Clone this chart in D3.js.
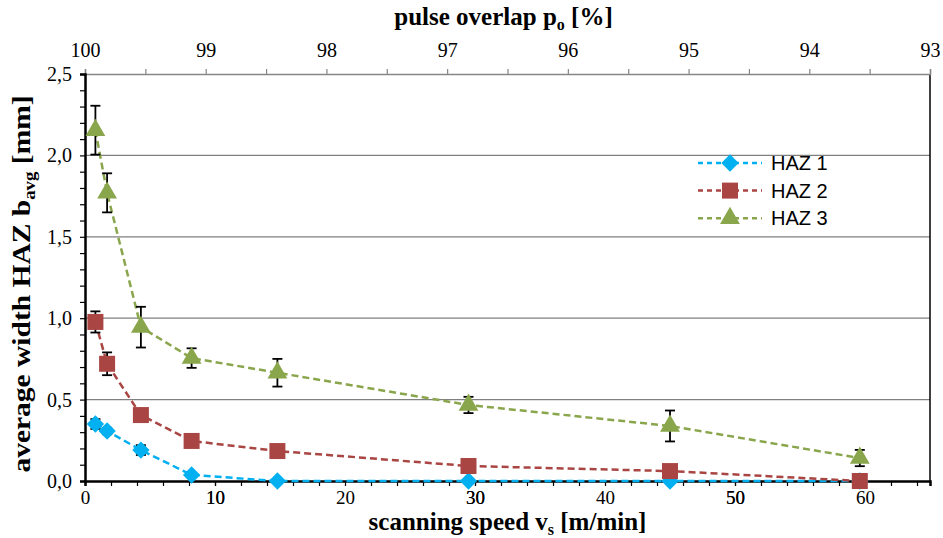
<!DOCTYPE html>
<html>
<head>
<meta charset="utf-8">
<script src="https://cdn.jsdelivr.net/npm/d3@7"></script>
<style>
body { margin: 0; background: #fff; }
svg { display: block; }
</style>
</head>
<body>
<script>
// scanning speed v_s [m/min]
var speed = [0.8, 1.7, 4.3, 8.2, 14.8, 29.5, 45, 59.6];
// HAZ widths [mm] and error bars
var haz1 = [0.35, 0.307, 0.19, 0.037, 0, 0, 0, 0];
var haz1Err = [0.03, 0.02, 0.03, 0, 0, 0, 0, 0];
var haz2 = [0.977, 0.72, 0.405, 0.246, 0.184, 0.092, 0.061, 0];
var haz2Err = [0.065, 0.07, 0.02, 0, 0, 0, 0.025, 0];
var haz3 = [2.155, 1.77, 0.945, 0.755, 0.665, 0.467, 0.338, 0.141];
var haz3Err = [0.15, 0.12, 0.125, 0.06, 0.085, 0.05, 0.095, 0.05];
var seriesNames = ["HAZ 1", "HAZ 2", "HAZ 3"];
var yTickLabels = ["0,0", "0,5", "1,0", "1,5", "2,0", "2,5"];

var width = 943, height = 538;
var mLeft = 85, mRight = 930, mTop = 74, mBottom = 481;

var svg = d3.select("body").append("svg")
    .attr("width", width)
    .attr("height", height);

var x = d3.scaleLinear().domain([0, 65]).range([mLeft, mRight]);
var xTop = d3.scaleLinear().domain([100, 93]).range([mLeft, mRight]);
var y = d3.scaleLinear().domain([0, 2.5]).range([mBottom, mTop]);

var serif = "'Liberation Serif', 'Times New Roman', serif";

// gridlines
svg.append("g").selectAll("line")
    .data([0.5, 1.0, 1.5, 2.0])
    .enter().append("line")
    .attr("x1", mLeft).attr("x2", mRight)
    .attr("y1", function(d) { return y(d); })
    .attr("y2", function(d) { return y(d); })
    .attr("stroke", "#7f7f7f")
    .attr("stroke-width", 1.2);

// right border
svg.append("line")
    .attr("x1", mRight).attr("x2", mRight)
    .attr("y1", mTop).attr("y2", mBottom)
    .attr("stroke", "#000").attr("stroke-width", 1.5);

// top axis
var topAxis = svg.append("g")
    .attr("transform", "translate(0," + mTop + ")")
    .call(d3.axisTop(xTop)
        .tickValues(d3.range(100, 92.9, -0.5))
        .tickSize(5)
        .tickFormat(function(d) { return d % 1 === 0 ? d : ""; }));
topAxis.select(".domain").attr("stroke", "#868686").attr("stroke-width", 1.5);
topAxis.selectAll(".tick line").attr("stroke", "#868686").attr("stroke-width", 1.2);
topAxis.selectAll("text")
    .attr("font-family", serif).attr("font-size", 20).attr("fill", "#000")
    .attr("y", -17).attr("dy", 0);

// bottom axis
var bottomAxis = svg.append("g")
    .attr("transform", "translate(0," + mBottom + ")")
    .call(d3.axisBottom(x)
        .tickValues(d3.range(0, 65.1, 2).concat([10, 30, 50]))
        .tickSize(5)
        .tickFormat(function(d) { return d % 10 === 0 ? d : ""; }));
bottomAxis.select(".domain").attr("stroke", "#000").attr("stroke-width", 2.5);
bottomAxis.selectAll(".tick line").attr("stroke", "#000").attr("stroke-width", 1.2);
bottomAxis.selectAll("text")
    .attr("font-family", serif).attr("font-size", 19).attr("fill", "#000")
    .attr("y", 23).attr("dy", 0);

// left axis
var leftAxis = svg.append("g")
    .attr("transform", "translate(" + mLeft + ",0)")
    .call(d3.axisLeft(y)
        .tickValues(d3.range(0, 2.51, 0.1))
        .tickSize(5)
        .tickFormat(function(d) {
            var i = Math.round(d * 10);
            return i % 5 === 0 ? yTickLabels[i / 5] : "";
        }));
leftAxis.select(".domain").attr("stroke", "#000").attr("stroke-width", 2.5);
leftAxis.selectAll(".tick line").attr("stroke", "#000").attr("stroke-width", 1.2);
leftAxis.selectAll("text")
    .attr("font-family", serif).attr("font-size", 20).attr("fill", "#000")
    .attr("x", -13);

// axis titles
var xt = svg.append("text")
    .attr("x", (mLeft + mRight) / 2).attr("y", 530)
    .attr("text-anchor", "middle")
    .attr("font-family", serif).attr("font-size", 25).attr("font-weight", "bold");
xt.append("tspan").text("scanning speed v");
xt.append("tspan").attr("font-size", 16).attr("dy", 5).text("s");
xt.append("tspan").attr("dy", -5).text(" [m/min]");

var tt = svg.append("text")
    .attr("x", (mLeft + mRight) / 2 - 4).attr("y", 25)
    .attr("text-anchor", "middle")
    .attr("font-family", serif).attr("font-size", 25).attr("font-weight", "bold");
tt.append("tspan").text("pulse overlap p");
tt.append("tspan").attr("font-size", 16).attr("dy", 5).text("o");
tt.append("tspan").attr("dy", -5).text(" [%]");

var yt = svg.append("text")
    .attr("transform", "translate(30,284) rotate(-90) scale(1.18,1)")
    .attr("text-anchor", "middle")
    .attr("font-family", serif).attr("font-size", 25).attr("font-weight", "bold");
yt.append("tspan").text("average width HAZ b");
yt.append("tspan").attr("font-size", 16).attr("dy", 5).text("avg");
yt.append("tspan").attr("dy", -5).text(" [mm]");

// series
var series = [
    { name: seriesNames[0], values: haz1, err: haz1Err, color: "#00B0F0", shape: d3.symbolSquare, size: 150, rot: 45 },
    { name: seriesNames[1], values: haz2, err: haz2Err, color: "#A94643", shape: d3.symbolSquare, size: 256, rot: 0 },
    { name: seriesNames[2], values: haz3, err: haz3Err, color: "#8AA64C", shape: d3.symbolTriangle, size: 170, rot: 0 }
];

var line = d3.line()
    .x(function(d) { return x(d[0]); })
    .y(function(d) { return y(d[1]); });

series.forEach(function(s) {
    var pts = speed.map(function(v, i) { return [v, s.values[i], s.err[i]]; });
    var g = svg.append("g");

    g.append("path")
        .datum(pts)
        .attr("d", line)
        .attr("fill", "none")
        .attr("stroke", s.color)
        .attr("stroke-width", 2.5)
        .attr("stroke-dasharray", "7,4");

    var eb = g.selectAll(".err")
        .data(pts.filter(function(d) { return d[2] > 0; }))
        .enter().append("g");
    eb.append("line")
        .attr("x1", function(d) { return x(d[0]); })
        .attr("x2", function(d) { return x(d[0]); })
        .attr("y1", function(d) { return y(d[1] + d[2]); })
        .attr("y2", function(d) { return y(d[1] - d[2]); })
        .attr("stroke", "#000").attr("stroke-width", 1.8);
    [1, -1].forEach(function(sign) {
        eb.append("line")
            .attr("x1", function(d) { return x(d[0]) - 5; })
            .attr("x2", function(d) { return x(d[0]) + 5; })
            .attr("y1", function(d) { return y(d[1] + sign * d[2]); })
            .attr("y2", function(d) { return y(d[1] + sign * d[2]); })
            .attr("stroke", "#000").attr("stroke-width", 1.8);
    });

    g.selectAll(".pt")
        .data(pts)
        .enter().append("path")
        .attr("d", d3.symbol().type(s.shape).size(s.size))
        .attr("transform", function(d) {
            return "translate(" + x(d[0]) + "," + y(d[1]) + ") rotate(" + s.rot + ")";
        })
        .attr("fill", s.color);
});

// legend
var legend = svg.append("g").selectAll("g")
    .data(series)
    .enter().append("g")
    .attr("transform", function(d, i) { return "translate(698," + (163 + i * 27.6) + ")"; });
legend.append("line")
    .attr("x1", 0).attr("x2", 64)
    .attr("stroke", function(d) { return d.color; })
    .attr("stroke-width", 2.5)
    .attr("stroke-dasharray", "5,4");
legend.append("path")
    .attr("transform", function(d) { return "translate(32,0) rotate(" + d.rot + ")"; })
    .attr("d", function(d) { return d3.symbol().type(d.shape).size(d.size)(); })
    .attr("fill", function(d) { return d.color; });
legend.append("text")
    .attr("x", 73).attr("dy", "0.36em")
    .attr("font-family", "'Liberation Sans', Arial, sans-serif")
    .attr("font-size", 20)
    .text(function(d) { return d.name; });
</script>
</body>
</html>
